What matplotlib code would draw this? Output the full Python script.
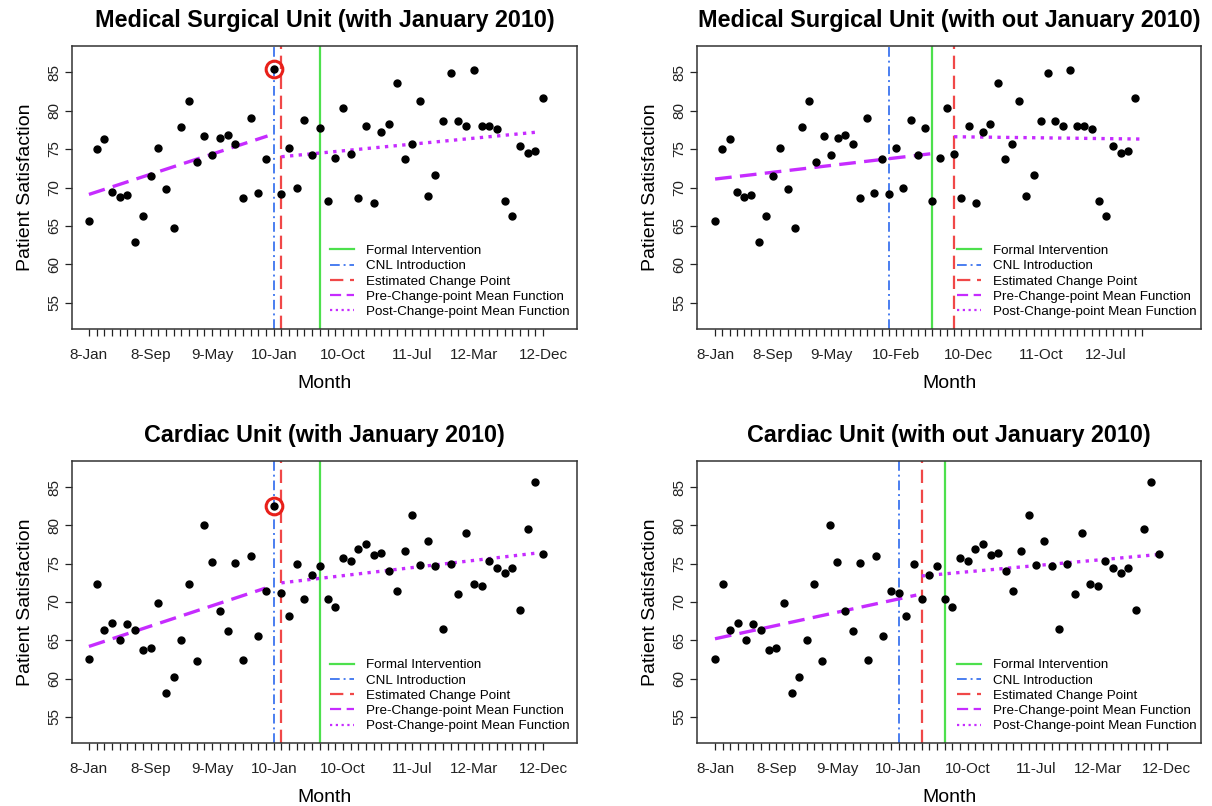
import numpy as np
import matplotlib
matplotlib.use('Agg')
import matplotlib.pyplot as plt
from matplotlib.lines import Line2D

plt.rcParams['font.family'] = ['Liberation Sans', 'DejaVu Sans']

# --- datos (Jan 2008 - Dec 2012) ---
msu_scores = [65.6, 75.0, 76.3, 69.4, 68.8, 69.0, 62.9, 66.3, 71.5, 75.2,
              69.8, 64.7, 77.9, 81.2, 73.3, 76.7, 74.2, 76.4, 76.8, 75.7,
              68.6, 79.0, 69.3, 73.7, 85.4, 69.1, 75.2, 70.0, 78.8, 74.2,
              77.7, 68.3, 73.9, 80.3, 74.3, 68.6, 78.0, 68.0, 77.2, 78.3,
              83.6, 73.7, 75.6, 81.2, 68.9, 71.6, 78.6, 84.9, 78.6, 78.0,
              85.3, 78.0, 78.0, 77.6, 68.2, 66.3, 75.4, 74.5, 74.7, 81.7]
cardiac_scores = [62.5, 72.3, 66.3, 67.2, 65.1, 67.1, 66.3, 63.8, 64.0, 69.9,
                  58.1, 60.2, 65.1, 72.4, 62.3, 80.1, 75.2, 68.8, 66.2, 75.1,
                  62.4, 76.0, 65.6, 71.5, 82.5, 71.2, 68.2, 75.0, 70.4, 73.5,
                  74.7, 70.4, 69.3, 75.7, 75.3, 76.9, 77.6, 76.1, 76.4, 74.0,
                  71.5, 76.6, 81.4, 74.8, 77.9, 74.7, 66.5, 75.0, 71.1, 79.0,
                  72.3, 72.1, 75.4, 74.4, 73.8, 74.4, 68.9, 79.5, 85.7, 76.2]
JAN_2010 = 24  # mes que se quita en los paneles "with out"

# etiquetas del eje x
labels_with = ['8-Jan', '8-Sep', '9-May', '10-Jan', '10-Oct', '11-Jul', '12-Mar', '12-Dec']
labels_with_idx = [0, 8, 16, 24, 33, 42, 50, 59]
labels_without = ['8-Jan', '8-Sep', '9-May', '10-Feb', '10-Dec', '11-Oct', '12-Jul']
labels_without_idx = [0, 8, 16, 25, 35, 45, 54]

# lineas verticales
cnl_month = 24
formal_month = 30
change_points = [25, 33, 25, 27]  # TL, TR, BL, BR

# funciones media (extremos de cada tramo)
pre_x = [[0, 23.2], [0, 30.8], [0, 22.9], [0, 26.3]]
pre_y = [[69.1, 76.7], [71.1, 74.5], [64.2, 71.8], [65.2, 70.9]]
post_x = [[25, 58.2], [33, 58.9], [25, 58.3], [27, 58.0]]
post_y = [[74.0, 77.2], [76.6, 76.3], [72.5, 76.4], [73.4, 76.2]]

titles = ['Medical Surgical Unit (with January 2010)',
          'Medical Surgical Unit (with out January 2010)',
          'Cardiac Unit (with January 2010)',
          'Cardiac Unit (with out January 2010)']

GREEN = '#4de04d'
BLUE = '#4a7ef0'
RED = '#f04848'
PURPLE = '#c62cff'

W, H = 1212, 806
fig = plt.figure(figsize=(W / 100, H / 100), dpi=100)

# (left, top, right, bottom) en pixeles
boxes = [(72, 46, 577, 329), (697, 46, 1201, 329),
         (72, 461, 577, 743), (697, 461, 1201, 743)]
xlims = [(-2.2, 63.4), (-2.5, 67.1), (-2.2, 63.4), (-2.35, 63.5)]

for k in range(4):
    l, t, r, b = boxes[k]
    ax = fig.add_axes([l / W, 1 - b / H, (r - l) / W, (b - t) / H])

    scores = msu_scores if k < 2 else cardiac_scores
    with_jan = (k % 2 == 0)
    y = np.array(scores)
    if not with_jan:
        y = np.delete(y, JAN_2010)
    x = np.arange(len(y))

    ax.axvline(formal_month, color=GREEN, lw=1.6, ls='-')
    ax.axvline(cnl_month, color=BLUE, lw=1.4, ls=(0, (5, 2, 1, 2)))
    ax.axvline(change_points[k], color=RED, lw=1.6, ls=(0, (6, 3)))

    ax.plot(x, y, 'o', color='black', ms=5, zorder=4)
    if with_jan:
        ax.plot(JAN_2010, scores[JAN_2010], 'o', ms=12, mfc='none',
                mec='#e8201a', mew=2.2, zorder=5)

    ax.plot(pre_x[k], pre_y[k], color=PURPLE, lw=2.4, ls=(0, (5, 2.5)), zorder=3)
    ax.plot(post_x[k], post_y[k], color=PURPLE, lw=2.4, ls=(0, (1, 1.6)), zorder=3)

    ax.set_xlim(*xlims[k])
    ax.set_ylim(51.6, 88.4)

    if k == 1:
        lab, lab_idx = labels_without, labels_without_idx
    else:
        lab, lab_idx = labels_with, labels_with_idx
    tick_labels = [''] * 60
    for name, i in zip(lab, lab_idx):
        tick_labels[i] = name
    ax.set_xticks(range(60), tick_labels)
    ax.set_yticks([55, 60, 65, 70, 75, 80, 85])
    ax.tick_params(axis='x', length=5, width=0.9, pad=9, labelsize=11, colors='#222222')
    ax.tick_params(axis='y', length=5, width=0.9, pad=3, labelsize=11, colors='#222222')
    for lbl in ax.get_yticklabels():
        lbl.set_rotation(90)
        lbl.set_va('center')

    for sp in ax.spines.values():
        sp.set_color('#333333')
        sp.set_linewidth(1.1)

    ax.set_title(titles[k], fontsize=16.8, fontweight='bold', pad=14)
    ax.set_xlabel('Month', fontsize=14, labelpad=9)
    ax.set_ylabel('Patient Satisfaction', fontsize=14, labelpad=9)

    handles = [Line2D([], [], color=GREEN, lw=1.6),
               Line2D([], [], color=BLUE, lw=1.4, ls=(0, (5, 2, 1, 2))),
               Line2D([], [], color=RED, lw=1.6, ls=(0, (6, 3))),
               Line2D([], [], color=PURPLE, lw=1.6, ls=(0, (5, 2.5))),
               Line2D([], [], color=PURPLE, lw=1.6, ls=(0, (1, 1.6)))]
    names = ['Formal Intervention', 'CNL Introduction', 'Estimated Change Point',
             'Pre-Change-point Mean Function', 'Post-Change-point Mean Function']
    leg_x = (333 - 72) / 505 if k % 2 == 0 else (960 - 697) / 504
    ax.legend(handles, names, loc='upper left', bbox_to_anchor=(leg_x - 0.005, 0.298),
              frameon=False, fontsize=9.6, handlelength=1.8, handletextpad=0.9,
              labelspacing=0.22, borderpad=0, borderaxespad=0)

fig.savefig('out.png', dpi=100)
